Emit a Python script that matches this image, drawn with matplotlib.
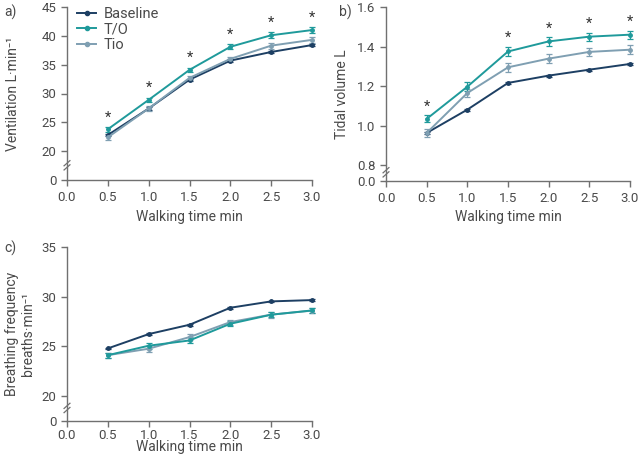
import matplotlib
matplotlib.use("Agg")
import matplotlib.pyplot as plt
from matplotlib.lines import Line2D

plt.rcParams['font.family'] = ['Roboto', 'DejaVu Sans']

time = [0.5, 1.0, 1.5, 2.0, 2.5, 3.0]
series = ["Baseline", "T/O", "Tio"]
colors = {"Baseline": "#1d3f63", "T/O": "#1f9a9b", "Tio": "#7f9fb2"}

# Panel a: ventilation (L/min)
vent_baseline = [22.8, 27.4, 32.4, 35.7, 37.2, 38.4]
vent_to = [23.8, 28.9, 34.1, 38.1, 40.1, 41.0]
vent_tio = [22.4, 27.4, 32.7, 36.0, 38.3, 39.3]
vent_err_baseline = [0.2, 0.2, 0.2, 0.2, 0.2, 0.2]
vent_err_to = [0.4, 0.4, 0.4, 0.4, 0.5, 0.5]
vent_err_tio = [0.4, 0.4, 0.4, 0.4, 0.5, 0.5]

# Panel b: tidal volume (L)
vt_baseline = [0.963, 1.081, 1.216, 1.253, 1.283, 1.312]
vt_to = [1.034, 1.197, 1.375, 1.426, 1.45, 1.46]
vt_tio = [0.963, 1.165, 1.295, 1.339, 1.373, 1.384]
vt_err_baseline = [0.005, 0.005, 0.005, 0.005, 0.005, 0.005]
vt_err_to = [0.018, 0.022, 0.024, 0.022, 0.02, 0.02]
vt_err_tio = [0.02, 0.022, 0.022, 0.022, 0.02, 0.022]

# Panel c: breathing frequency (breaths/min)
bf_baseline = [24.8, 26.24, 27.18, 28.89, 29.53, 29.66]
bf_to = [24.12, 25.07, 25.6, 27.28, 28.19, 28.62]
bf_tio = [24.12, 24.77, 25.94, 27.45, 28.2, 28.6]
bf_err_baseline = [0.08, 0.08, 0.08, 0.08, 0.08, 0.08]
bf_err_to = [0.25, 0.3, 0.3, 0.25, 0.25, 0.25]
bf_err_tio = [0.25, 0.3, 0.3, 0.25, 0.3, 0.25]

x_ticks = [0.0, 0.5, 1.0, 1.5, 2.0, 2.5, 3.0]
x_tick_labels = ["0.0", "0.5", "1.0", "1.5", "2.0", "2.5", "3.0"]

W, H = 640, 463
fig = plt.figure(figsize=(W / 100, H / 100), dpi=100)

def px_axes(l, r, t, b):
    return fig.add_axes([l / W, (H - b) / H, (r - l) / W, (b - t) / H])

axis_color = "#707070"
text_color = "#4a4a4a"

def style(ax, ylim, yticks, ylabels, ylabel, break_frac, ylab_x, xlab_y, xpad):
    ax.set_xlim(0, 3)
    ax.set_ylim(*ylim)
    ax.set_xticks(x_ticks)
    ax.set_xticklabels(x_tick_labels)
    ax.set_yticks(yticks)
    ax.set_yticklabels(ylabels)
    for s in ["top", "right"]:
        ax.spines[s].set_visible(False)
    for s in ["left", "bottom"]:
        ax.spines[s].set_color(axis_color)
        ax.spines[s].set_linewidth(1.0)
    ax.tick_params(colors=axis_color, labelcolor=text_color, labelsize=9.5,
                   length=4, width=1.0, direction="out")
    ax.tick_params(axis="x", pad=xpad)
    ax.set_xlabel("Walking time min", color=text_color, fontsize=10)
    ax.set_ylabel(ylabel, color=text_color, fontsize=10, linespacing=1.15)
    ax.xaxis.set_label_coords(0.5, xlab_y)
    ax.yaxis.set_label_coords(ylab_x, 0.5)
    dx = 0.012
    for off in (-0.012, 0.012):
        ax.plot([-dx, dx], [break_frac + off - 0.015, break_frac + off + 0.015],
                transform=ax.transAxes, color=axis_color, lw=0.9, clip_on=False)

def draw(ax, data, errs):
    for name in ["Baseline", "Tio", "T/O"]:
        ax.errorbar(time, data[name], yerr=errs[name], color=colors[name],
                    lw=1.4, marker="o", ms=2.5, capsize=2, elinewidth=0.9,
                    capthick=0.9, label=name, clip_on=False, zorder=3)

# Panel a
axa = px_axes(67, 312, 7, 180)
draw(axa, {"Baseline": vent_baseline, "T/O": vent_to, "Tio": vent_tio},
     {"Baseline": vent_err_baseline, "T/O": vent_err_to, "Tio": vent_err_tio})
style(axa, (15, 45), [15, 20, 25, 30, 35, 40, 45],
      ["0", "20", "25", "30", "35", "40", "45"], "Ventilation L\u00b7min\u207b\u00b9",
      0.085, -0.19, -0.172, 4)
for xv, yv, e in zip(time, vent_to, vent_err_to):
    axa.text(xv, yv + e + 0.4, "*", ha="center", va="bottom", fontsize=10.5, color="#333333")
handles = [Line2D([], [], color=colors[n], lw=1.4, marker="o", ms=3) for n in series]
axa.legend(handles, series, loc="upper left",
           bbox_to_anchor=(0.0, 1.06), frameon=False, fontsize=10.5,
           handlelength=1.3, handletextpad=0.5, labelspacing=0.12, labelcolor=text_color,
           borderaxespad=0.3)
fig.text(4 / W, (H - 12) / H, "a)", fontsize=10, color=text_color, va="center")

# Panel b
axb = px_axes(386, 630, 7, 181)
draw(axb, {"Baseline": vt_baseline, "T/O": vt_to, "Tio": vt_tio},
     {"Baseline": vt_err_baseline, "T/O": vt_err_to, "Tio": vt_err_tio})
style(axb, (0.72, 1.6), [0.72, 0.8, 1.0, 1.2, 1.4, 1.6],
      ["0.0", "0.8", "1.0", "1.2", "1.4", "1.6"], "Tidal volume L",
      0.05, -0.152, -0.167, 4)
for xv, yv, e in zip(time, vt_to, vt_err_to):
    if xv == 1.0:
        continue
    axb.text(xv, yv + e + 0.008, "*", ha="center", va="bottom", fontsize=10.5, color="#333333")
fig.text(339 / W, (H - 12) / H, "b)", fontsize=10, color=text_color, va="center")

# Panel c
axc = px_axes(67, 312, 247, 421)
draw(axc, {"Baseline": bf_baseline, "T/O": bf_to, "Tio": bf_tio},
     {"Baseline": bf_err_baseline, "T/O": bf_err_to, "Tio": bf_err_tio})
style(axc, (17.5, 35), [17.5, 20, 25, 30, 35],
      ["0", "20", "25", "30", "35"], "Breathing frequency\nbreaths\u00b7min\u207b\u00b9",
      0.075, -0.13, -0.11, 1.5)
fig.text(4 / W, (H - 248) / H, "c)", fontsize=10, color=text_color, va="center")

fig.savefig("out.png", dpi=100)
